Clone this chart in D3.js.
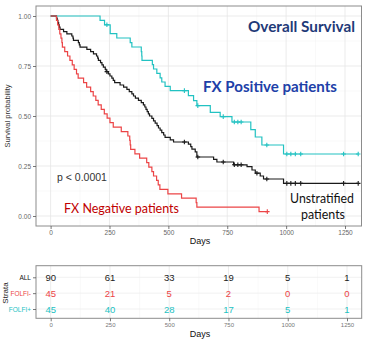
<!DOCTYPE html>
<html><head><meta charset="utf-8">
<script src="https://cdn.jsdelivr.net/npm/d3@7"></script>
<style>
html,body{margin:0;padding:0;background:#fff;}
svg{display:block;}
</style></head>
<body><div id="chart"></div>
<script>
// ---------- DATA ----------
const xTicks = [0, 250, 500, 750, 1000, 1250];
const yTicks = [0, 0.25, 0.5, 0.75, 1];
const strata = ["ALL", "FOLFI-", "FOLFI+"];

// FX Negative (FOLFI-) curve: event days and survival after each event
const negTimes = [25,30,35,39,44,48,50,60,72,82,92,100,110,117,140,153,170,181,192,202,215,228,240,252,266,300,328,336,338,340,358,378,408,417,430,437,450,457,464,498,556,618,621,885];
const negSurv  = [0.978,0.956,0.933,0.911,0.889,0.867,0.844,0.822,0.800,0.778,0.756,0.733,0.711,0.689,0.667,0.644,0.622,0.600,0.578,0.556,0.533,0.511,0.489,0.467,0.444,0.422,0.400,0.378,0.356,0.333,0.311,0.289,0.267,0.244,0.222,0.200,0.178,0.156,0.133,0.111,0.089,0.067,0.044,0.022];
const negCensor = [920];
const negEnd = 920;

// Unstratified (ALL) curve
const allTimes = [25,28,31,34,37,40,55,69,90,95,97,118,122,125,154,170,182,195,200,203,212,218,224,232,236,245,252,260,266,272,295,310,324,334,345,352,360,373,385,394,400,405,410,415,420,430,437,444,452,458,465,472,480,486,508,522,585,595,600,614,621,692,706,777,834,855,869,890,904,989];
const allSurv  = [0.989,0.978,0.967,0.956,0.944,0.933,0.922,0.911,0.900,0.889,0.878,0.867,0.856,0.844,0.833,0.822,0.811,0.800,0.789,0.778,0.767,0.756,0.744,0.733,0.722,0.711,0.700,0.689,0.678,0.667,0.655,0.644,0.633,0.622,0.611,0.600,0.589,0.578,0.567,0.556,0.545,0.533,0.522,0.511,0.500,0.488,0.476,0.464,0.452,0.440,0.429,0.417,0.405,0.393,0.381,0.370,0.359,0.347,0.334,0.321,0.295,0.283,0.270,0.256,0.247,0.230,0.214,0.200,0.185,0.163];
const allCensor = [239,568,625,733,780,795,809,876,918,1003,1020,1039,1062,1244,1306];
const allEnd = 1306;

// FX Positive (FOLFI+) curve
const posTimes = [210,229,253,281,338,345,385,387,388,432,437,451,465,472,486,508,585,607,621,678,720,770,850,869,897,989];
const posSurv  = [0.978,0.956,0.912,0.890,0.867,0.845,0.822,0.800,0.778,0.757,0.735,0.713,0.691,0.670,0.648,0.627,0.602,0.577,0.552,0.518,0.497,0.470,0.432,0.395,0.355,0.310];
const posCensor = [239,568,625,733,780,795,809,918,1003,1020,1039,1062,1244,1306];
const posEnd = 1306;

// Number at risk table
const riskAll = [90, 61, 33, 19, 5, 1];
const riskNeg = [45, 21, 5, 2, 0, 0];
const riskPos = [45, 40, 28, 17, 5, 1];

// ---------- STYLE ----------
const colAll = "#1a1a1a", colNeg = "#EC4446", colPos = "#22C2C2";
const W = 378, H = 347;
const svg = d3.select("#chart").append("svg").attr("width", W).attr("height", H);
svg.append("rect").attr("width", W).attr("height", H).attr("fill", "#fff");

// ---------- MAIN PLOT ----------
const P = {l: 36, r: 361.5, t: 6, b: 226};
const x = d3.scaleLinear().domain([-62, 1320]).range([P.l, P.r]);
const y = d3.scaleLinear().domain([-0.05, 1.05]).range([P.b, P.t]);

const g = svg.append("g");
// grid
const xMinor = xTicks.slice(0, -1).map((v, i) => (v + xTicks[i + 1]) / 2);
const yMinor = yTicks.slice(0, -1).map((v, i) => (v + yTicks[i + 1]) / 2);
g.selectAll(".gxm").data(xMinor).join("line")
  .attr("x1", d => x(d)).attr("x2", d => x(d)).attr("y1", P.t).attr("y2", P.b)
  .attr("stroke", "#F2F2F2").attr("stroke-width", 0.5);
g.selectAll(".gym").data(yMinor).join("line")
  .attr("y1", d => y(d)).attr("y2", d => y(d)).attr("x1", P.l).attr("x2", P.r)
  .attr("stroke", "#F2F2F2").attr("stroke-width", 0.5);
g.selectAll(".gx").data(xTicks).join("line")
  .attr("x1", d => x(d)).attr("x2", d => x(d)).attr("y1", P.t).attr("y2", P.b)
  .attr("stroke", "#E6E6E6").attr("stroke-width", 0.8);
g.selectAll(".gy").data(yTicks).join("line")
  .attr("y1", d => y(d)).attr("y2", d => y(d)).attr("x1", P.l).attr("x2", P.r)
  .attr("stroke", "#E6E6E6").attr("stroke-width", 0.8);

// curves
function series(times, surv, end) {
  const pts = [{t: 0, s: 1}];
  times.forEach((t, i) => pts.push({t: t, s: surv[i]}));
  pts.push({t: end, s: surv[surv.length - 1]});
  return pts;
}
function censorPts(cens, times, surv) {
  return cens.map(c => {
    let s = 1;
    times.forEach((t, i) => { if (t <= c) s = surv[i]; });
    return {t: c, s: s};
  });
}
const line = d3.line().x(d => x(d.t)).y(d => y(d.s)).curve(d3.curveStepAfter);
const curves = [
  {times: posTimes, surv: posSurv, cens: posCensor, end: posEnd, col: colPos},
  {times: allTimes, surv: allSurv, cens: allCensor, end: allEnd, col: colAll},
  {times: negTimes, surv: negSurv, cens: negCensor, end: negEnd, col: colNeg}
];
curves.forEach(c => {
  g.append("path").datum(series(c.times, c.surv, c.end)).attr("d", line)
    .attr("fill", "none").attr("stroke", c.col).attr("stroke-width", 1.2);
  const cp = censorPts(c.cens, c.times, c.surv);
  const m = g.append("g");
  m.selectAll("path").data(cp).join("path")
    .attr("d", d => `M${x(d.t) - 2.3},${y(d.s)}h4.6M${x(d.t)},${y(d.s) - 2.3}v4.6`)
    .attr("stroke", c.col).attr("stroke-width", 1.1);
});

// border
g.append("rect").attr("x", P.l).attr("y", P.t).attr("width", P.r - P.l).attr("height", P.b - P.t)
  .attr("fill", "none").attr("stroke", "#8C8C8C").attr("stroke-width", 1);

// axes
const axY = svg.append("g").attr("transform", `translate(${P.l},0)`)
  .call(d3.axisLeft(y).tickValues(yTicks).tickFormat(d3.format(".2f")).tickSize(3).tickPadding(2));
const axX = svg.append("g").attr("transform", `translate(0,${P.b})`)
  .call(d3.axisBottom(x).tickValues(xTicks).tickFormat(d3.format("d")).tickSize(3).tickPadding(1.5));
[axY, axX].forEach(a => {
  a.select(".domain").remove();
  a.selectAll("line").attr("stroke", "#555").attr("stroke-width", 0.8);
  a.selectAll("text").attr("fill", "#666").style("font-family", "Liberation Sans, Arial, sans-serif").style("font-size", "6.5px");
});
svg.append("text").attr("transform", `translate(8,116) rotate(-90)`).attr("text-anchor", "middle")
  .attr("dominant-baseline", "middle")
  .style("font-family", "Liberation Sans, Arial, sans-serif").style("font-size", "7.5px").attr("fill", "#333")
  .text("Survival probability");
svg.append("text").attr("x", 200).attr("y", 244).attr("text-anchor", "middle")
  .style("font-family", "Liberation Sans, Arial, sans-serif").style("font-size", "9px").attr("fill", "#111")
  .text("Days");

// annotations
function ann(txt, xp, yp, len, size, weight, col, anchor) {
  svg.append("text").attr("x", xp).attr("y", yp).attr("text-anchor", anchor || "start")
    .attr("textLength", len).attr("lengthAdjust", "spacingAndGlyphs")
    .style("font-family", "Lato, 'Open Sans', sans-serif").style("font-size", size + "px")
    .style("font-weight", weight).attr("fill", col).text(txt);
}
ann("Overall Survival", 248, 32, 107, 16, 700, "#1F3A78");
ann("FX Positive patients", 203, 92, 134, 16, 700, "#2040A8");
ann("FX Negative patients", 64, 213, 115, 14, 400, "#C00000");
ann("Unstratified", 290, 203, 64, 13, 400, "#111");
ann("patients", 301, 218.5, 44, 13, 400, "#111");
svg.append("text").attr("x", 57).attr("y", 181)
  .style("font-family", "Liberation Sans, Arial, sans-serif").style("font-size", "10.5px").attr("fill", "#333")
  .text("p < 0.0001");

// ---------- RISK TABLE ----------
const T = {l: 36, r: 361.7, t: 265.7, b: 318.3};
const xr = d3.scaleLinear().domain([-62, 1312]).range([T.l, T.r]);
const yr = d3.scalePoint().domain(strata).range([277.3, 309]);
const tg = svg.append("g");
tg.selectAll(".tm").data(xMinor).join("line")
  .attr("x1", d => xr(d)).attr("x2", d => xr(d)).attr("y1", T.t).attr("y2", T.b)
  .attr("stroke", "#F2F2F2").attr("stroke-width", 0.5);
tg.selectAll(".tx").data(xTicks).join("line")
  .attr("x1", d => xr(d)).attr("x2", d => xr(d)).attr("y1", T.t).attr("y2", T.b)
  .attr("stroke", "#E6E6E6").attr("stroke-width", 0.8);
tg.selectAll(".ty").data(strata).join("line")
  .attr("y1", d => yr(d)).attr("y2", d => yr(d)).attr("x1", T.l).attr("x2", T.r)
  .attr("stroke", "#EEEEEE").attr("stroke-width", 0.8);
tg.append("rect").attr("x", T.l).attr("y", T.t).attr("width", T.r - T.l).attr("height", T.b - T.t)
  .attr("fill", "none").attr("stroke", "#8C8C8C").attr("stroke-width", 1);

const rows = [
  {k: "ALL", v: riskAll, col: "#222"},
  {k: "FOLFI-", v: riskNeg, col: colNeg},
  {k: "FOLFI+", v: riskPos, col: colPos}
];
rows.forEach(r => {
  tg.selectAll(null).data(r.v).join("text")
    .attr("x", (d, i) => xr(xTicks[i])).attr("y", yr(r.k)).attr("text-anchor", "middle")
    .attr("dominant-baseline", "central")
    .style("font-family", "Liberation Sans, Arial, sans-serif").style("font-size", "9.5px")
    .attr("fill", r.col).text(d => d);
});
const colMap = {"ALL": "#111", "FOLFI-": colNeg, "FOLFI+": colPos};
const taY = svg.append("g").attr("transform", `translate(${T.l},0)`)
  .call(d3.axisLeft(yr).tickSize(3).tickPadding(2));
const taX = svg.append("g").attr("transform", `translate(0,${T.b})`)
  .call(d3.axisBottom(xr).tickValues(xTicks).tickFormat(d3.format("d")).tickSize(3).tickPadding(1.5));
[taY, taX].forEach(a => {
  a.select(".domain").remove();
  a.selectAll("line").attr("stroke", "#555").attr("stroke-width", 0.8);
  a.selectAll("text").style("font-family", "Liberation Sans, Arial, sans-serif").style("font-size", "6.5px");
});
taX.selectAll("text").attr("fill", "#777").style("font-size", "6px");
taY.selectAll("text").attr("fill", d => colMap[d]);
svg.append("text").attr("transform", `translate(6,293) rotate(-90)`).attr("text-anchor", "middle")
  .attr("dominant-baseline", "middle")
  .style("font-family", "Liberation Sans, Arial, sans-serif").style("font-size", "8px").attr("fill", "#222")
  .text("Strata");
svg.append("text").attr("x", 200).attr("y", 337).attr("text-anchor", "middle")
  .style("font-family", "Liberation Sans, Arial, sans-serif").style("font-size", "9px").attr("fill", "#111")
  .text("Days");
</script></body></html>
